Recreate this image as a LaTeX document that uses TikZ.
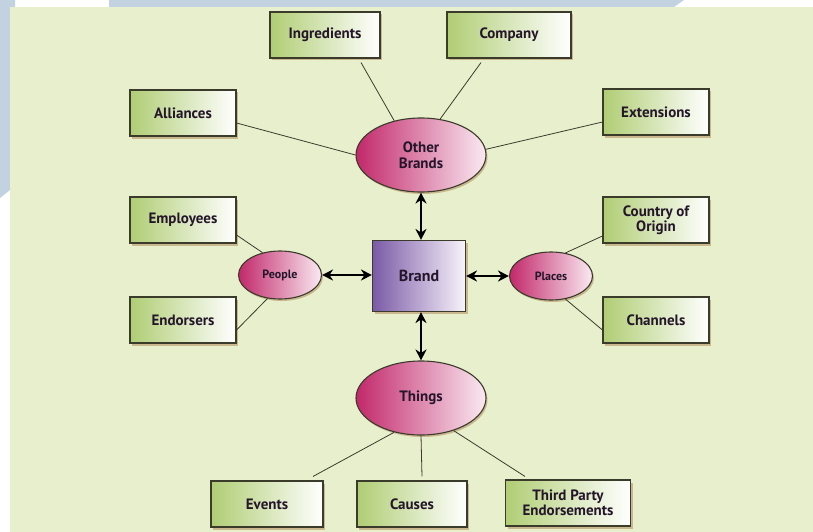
\documentclass[tikz,border=0pt]{standalone}
\usepackage{fontspec}
\setmainfont{PT Sans}
\usetikzlibrary{shadows,arrows.meta,calc,shapes.geometric}

\definecolor{panel}{HTML}{E8EFCC}
\definecolor{band}{HTML}{C2D2E0}
\definecolor{boxgreen}{HTML}{B0CD74}
\definecolor{edge}{HTML}{3B3B2C}
\definecolor{shade}{HTML}{C9B88E}
\definecolor{magenta}{HTML}{C2286A}
\definecolor{pinkwhite}{HTML}{FAEAF2}
\definecolor{violet}{HTML}{7A5AA6}
\definecolor{lilac}{HTML}{F8F3FB}
\definecolor{ink}{HTML}{24152A}

\tikzset{
  x=1pt, y=-1pt,
  labelbox/.style={draw=edge, line width=1.1pt, left color=boxgreen, right color=white,
    minimum width=#1, minimum height=46pt, inner sep=2pt, align=center,
    font=\fontsize{15}{15.5}\selectfont\bfseries, text=ink,
    drop shadow={shadow xshift=2pt, shadow yshift=-2.5pt, fill=shade, opacity=1}},
  labelbox/.default=106pt,
  hub/.style={ellipse, draw=edge, line width=1.1pt, left color=magenta, right color=pinkwhite,
    inner sep=0pt, align=center, text=ink,
    drop shadow={shadow xshift=1.5pt, shadow yshift=-2pt, fill=shade, opacity=1}},
  bighub/.style={hub, minimum width=130pt, minimum height=74pt,
    font=\fontsize{15}{16}\selectfont\bfseries},
  smallhub/.style={hub, minimum width=83pt, minimum height=48pt,
    font=\fontsize{12}{13}\selectfont\bfseries},
  core/.style={draw=edge, line width=1.1pt, left color=violet, right color=lilac,
    minimum width=93pt, minimum height=71pt, font=\fontsize{16}{17}\selectfont\bfseries, text=ink,
    drop shadow={shadow xshift=2pt, shadow yshift=-2.5pt, fill=shade, opacity=1}},
  link/.style={draw=edge, line width=0.8pt},
  twoway/.style={draw=black, line width=2.2pt, {Stealth[length=11pt,width=11pt]}-{Stealth[length=11pt,width=11pt]}}
}

\begin{document}
\begin{tikzpicture}
% page background and corner bands
\useasboundingbox (0,0) rectangle (813,532);
\fill[white] (0,0) rectangle (813,532);
\fill[band] (0,0) -- (15,0) -- (15,7) -- (10,7) -- (10,190) -- (0,198) -- cycle;
\fill[band] (109,0) -- (684,0) -- (674,7) -- (109,7) -- cycle;
\fill[panel] (10,7) rectangle (813,532);

% central brand and its four hubs
\node[core] (brand) at (419,276) {Brand};
\node[bighub] (other) at (421,155) {Other\\Brands};
\node[bighub] (things) at (421,398) {Things};
\node[smallhub] (people) at (280,275) {People};
\node[smallhub] (places) at (551,276) {Places};

% outer boxes
\node[labelbox=110pt] (ingr) at (325,35) {Ingredients};
\node[labelbox=124pt] (comp) at (509,35) {Company};
\node[labelbox] (alli) at (183,113) {Alliances};
\node[labelbox] (exte) at (656,112) {Extensions};
\node[labelbox] (empl) at (183,220) {Employees};
\node[labelbox] (endo) at (183,320) {Endorsers};
\node[labelbox] (ctry) at (656,220) {Country of\\Origin};
\node[labelbox] (chan) at (656,320) {Channels};
\node[labelbox=112pt] (evnt) at (267,504) {Events};
\node[labelbox=110pt] (caus) at (412,504) {Causes};
\node[labelbox=125pt] (thrd) at (568,503) {Third Party\\Endorsements};

% plain connectors
\draw[link] ($(ingr.south)+(36,4)$) -- (other.128);
\draw[link] ($(comp.south)+(-28,4)$) -- (other.62);
\draw[link] ($(alli.east)+(0,10)$) -- (other.180);
\draw[link] ($(exte.west)+(0,10)$) -- (other.5);
\draw[link] ($(empl.east)+(0,15)$) -- (people.128);
\draw[link] ($(endo.east)+(0,10)$) -- (people.-118);
\draw[link] ($(ctry.west)+(0,16)$) -- (places.58);
\draw[link] ($(chan.west)+(0,10)$) -- (places.-58);
\draw[link] ($(evnt.north)+(46,-4)$) -- (things.-128);
\draw[link] ($(caus.north)+(10,-4)$) -- (things.-90);
\draw[link] ($(thrd.north)+(-43,-3)$) -- (things.-45);

% two-way arrows from the brand
\draw[twoway] (other.south) -- (other.south |- brand.north);
\draw[twoway] (things.north |- brand.south) -- (things.north);
\draw[twoway] (people.east) -- (people.east -| brand.west);
\draw[twoway] (places.west -| brand.east) -- (places.west);
\end{tikzpicture}
\end{document}
